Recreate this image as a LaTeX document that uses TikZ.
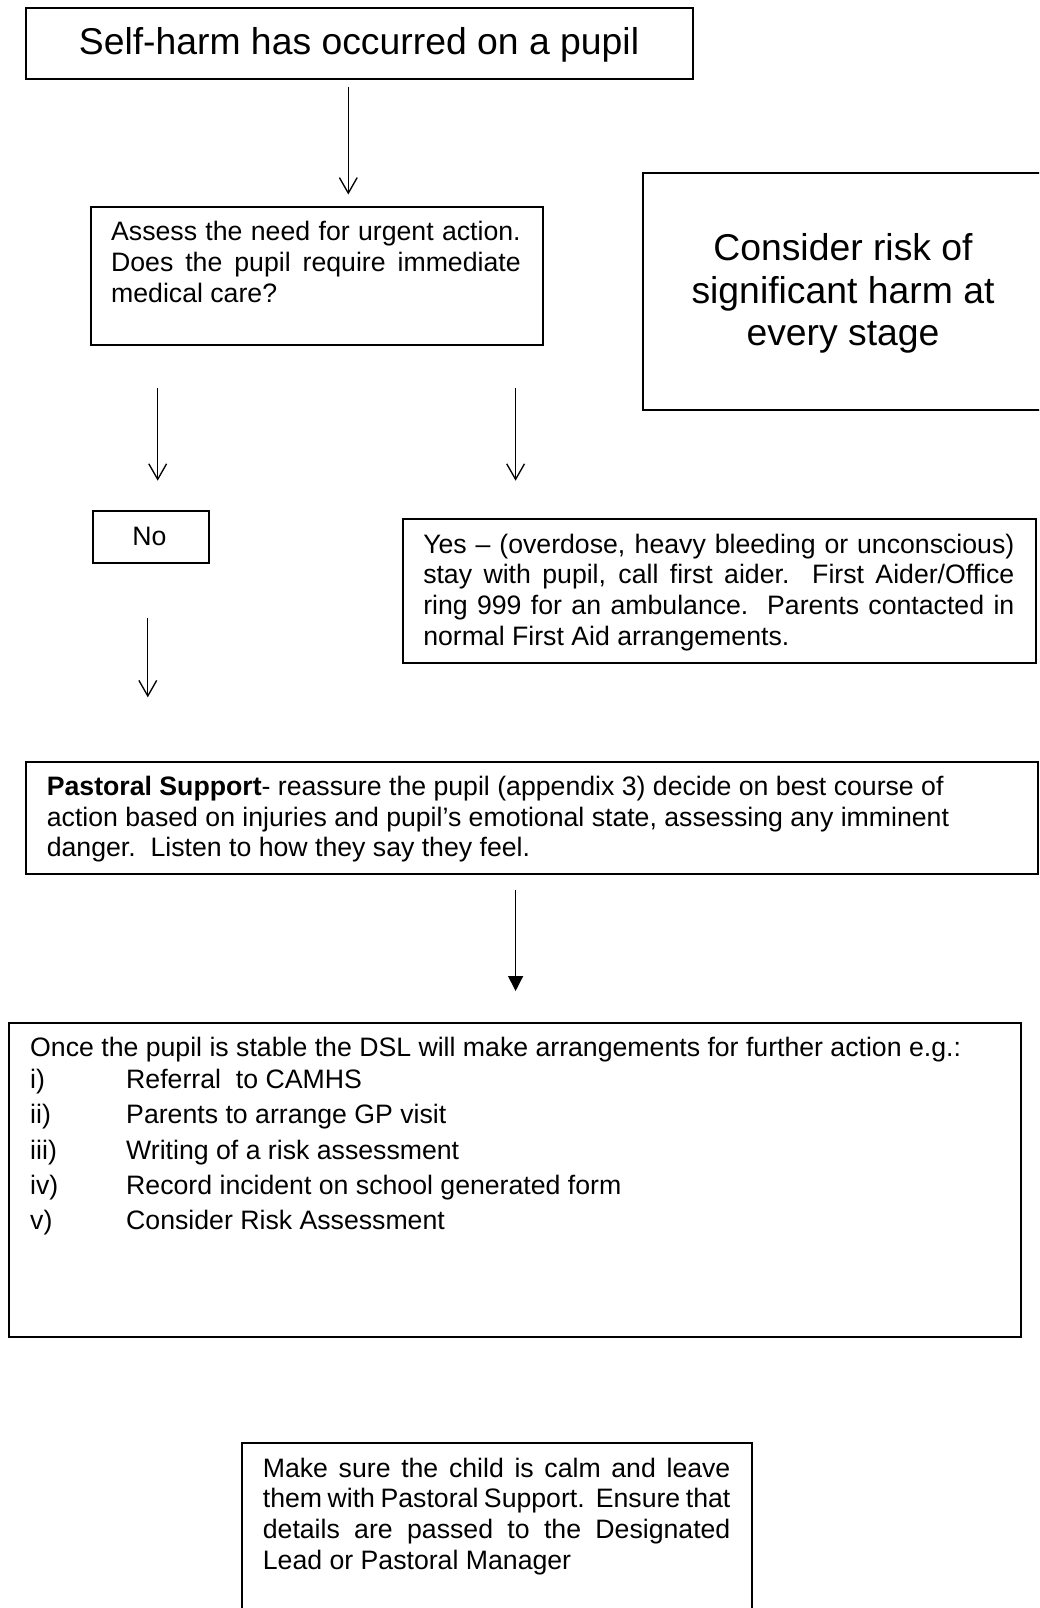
\documentclass[tikz,border=0pt]{standalone}
\usepackage{fontspec}
\setmainfont{Liberation Sans}
\usetikzlibrary{arrows.meta}
\newcommand{\natsp}{\spaceskip=0pt\xspaceskip=0pt\relax}
\begin{document}
\begin{tikzpicture}[x=0.45pt,y=-0.45pt,
  box/.style={draw, line width=0.9pt, rectangle, inner sep=0pt, anchor=north west},
  txt/.style={inner sep=0pt, anchor=base west, align=left, font=\fontsize{12}{13.8}\selectfont},
  bigtxt/.style={inner sep=0pt, anchor=base, font=\fontsize{16.8}{19.1}\selectfont},
  arr/.style={line width=0.6pt, -{Straight Barb[length=7pt,width=8pt]}},
  farr/.style={line width=0.6pt, -{Triangle[length=6.75pt,width=6.75pt]}}]
\useasboundingbox[fill=white] (0,0) rectangle (1039,1608);
\clip (0,0) rectangle (1039,1608);

% boxes
\node[box, minimum width=300.15pt, minimum height=31.95pt] (b1) at (25,7) {};
\node[box, minimum width=203.6pt, minimum height=62.2pt] (b2) at (89.5,205.7) {};
\node[box, minimum width=189pt, minimum height=106.9pt] (b3) at (641.5,171.7) {};
\node[box, minimum width=52.2pt, minimum height=23.2pt] (bno) at (91.5,510) {};
\node[box, minimum width=285pt, minimum height=64.8pt] (byes) at (401.6,517.5) {};
\node[box, minimum width=455.3pt, minimum height=50.5pt] (bpas) at (25.2,760.7) {};
\node[box, minimum width=455.6pt, minimum height=141.1pt] (bdsl) at (8,1022) {};
\node[box, minimum width=229.4pt, minimum height=90pt] (bfin) at (241.3,1441.7) {};

% texts
\node[bigtxt] (t1) at (359,55) {\natsp Self-harm has occurred on a pupil};
\node[bigtxt] (t3) at (843,261) {\natsp\begin{tabular}[t]{@{}c@{}}Consider risk of\\ significant harm at\\ every stage\end{tabular}};
\node[txt, text width=184.3pt] (t2) at (110.7,241) {\natsp
\makebox[184.3pt][s]{Assess the need for urgent action.}\\
\makebox[184.3pt][s]{Does the pupil require immediate}\\
medical care?};
\node[txt, anchor=base] (tno) at (149.5,545) {No};
\node[txt, text width=266pt] (tyes) at (422.8,553) {\natsp
\makebox[266pt][s]{Yes – (overdose, heavy bleeding or unconscious)}\\
\makebox[266pt][s]{stay with pupil, call first aider.\ \ First Aider/Office}\\
\makebox[266pt][s]{ring 999 for an ambulance.\ \ Parents contacted in}\\
normal First Aid arrangements.};
\node[txt, text width=440pt] (tpas) at (46.4,795.5) {\natsp
\textbf{Pastoral Support}- reassure the pupil (appendix 3) decide on best course of\\
action based on injuries and pupil’s emotional state, assessing any imminent\\
danger.\ \ Listen to how they say they feel.};
\node[txt, text width=440pt] (tdsl) at (29.8,1056) {\natsp
Once the pupil is stable the DSL will make arrangements for further action e.g.:\\[0.8pt]
\makebox[43.2pt][l]{i)}Referral\ \ to CAMHS\\[2.1pt]
\makebox[43.2pt][l]{ii)}Parents to arrange GP visit\\[2.1pt]
\makebox[43.2pt][l]{iii)}Writing of a risk assessment\\[2.1pt]
\makebox[43.2pt][l]{iv)}Record incident on school generated form\\[2.1pt]
\makebox[43.2pt][l]{v)}Consider Risk Assessment};
\node[txt, text width=210.4pt] (tfin) at (262.4,1477) {\natsp
\makebox[210.4pt][s]{Make sure the child is calm and leave}\\
\makebox[210.4pt][s]{them with Pastoral Support.\ \ Ensure that}\\
\makebox[210.4pt][s]{details are passed to the Designated}\\
Lead or Pastoral Manager};

% arrow end points
\coordinate (a1s) at (348.3,86.7);  \coordinate (a1e) at (348.3,194.5);
\coordinate (a2s) at (157.7,388);   \coordinate (a2e) at (157.7,480.7);
\coordinate (a3s) at (515.6,388);   \coordinate (a3e) at (515.6,480.7);
\coordinate (a4s) at (147.8,617.7); \coordinate (a4e) at (147.8,697.3);
\coordinate (a5s) at (515.6,890);   \coordinate (a5e) at (515.6,991);

\draw[arr] (a1s) -- (a1e);
\draw[arr] (a2s) -- (a2e);
\draw[arr] (a3s) -- (a3e);
\draw[arr] (a4s) -- (a4e);
\draw[farr] (a5s) -- (a5e);
\end{tikzpicture}
\end{document}
